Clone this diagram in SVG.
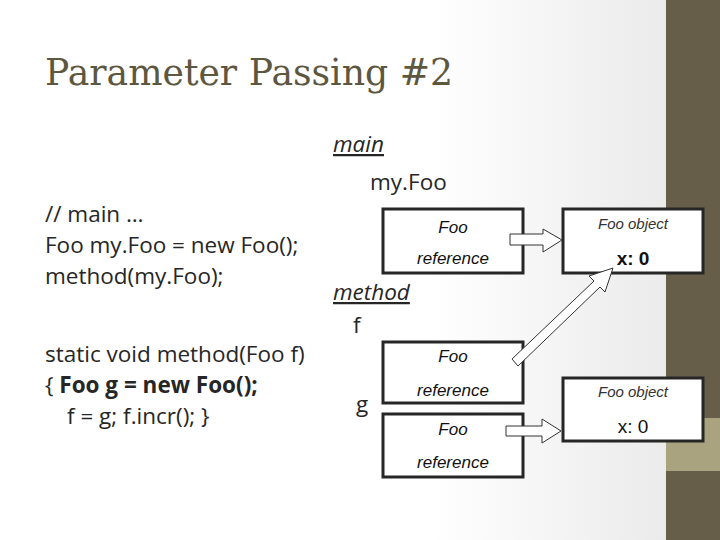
<svg xmlns="http://www.w3.org/2000/svg" width="720" height="540" viewBox="0 0 720 540">
<defs>
<linearGradient id="bg" x1="0" x2="1" y1="0" y2="0"><stop offset="0" stop-color="#ffffff"/><stop offset="0.6" stop-color="#ffffff"/><stop offset="1" stop-color="#e6e6e6"/></linearGradient>
</defs>
<style>
.t{font-family:"Open Sans","Liberation Sans",sans-serif;fill:#262626;font-size:22.5px}
.a{font-family:"Liberation Sans",Arial,sans-serif;fill:#111;font-size:17px;font-style:italic;text-anchor:middle}
.o{font-family:"Liberation Sans",Arial,sans-serif;fill:#111;font-size:19px;text-anchor:middle}
.box{fill:#fff;stroke:#262626;stroke-width:3}
.arr{fill:#fff;stroke:#333;stroke-width:1}
</style>
<rect width="720" height="540" fill="url(#bg)"/>
<rect x="666" y="0" width="54" height="540" fill="#665e48"/>
<rect x="666" y="418" width="54" height="53" fill="#a9a47f"/>
<text x="45" y="85" font-family="DejaVu Serif, Liberation Serif, serif" font-size="38" fill="#5e573f" textLength="408" lengthAdjust="spacingAndGlyphs">Parameter Passing #2</text>
<g id="code">
<text class="t" x="45" y="222">// main …</text>
<text class="t" x="45" y="253">Foo my.Foo = new Foo();</text>
<text class="t" x="45" y="284">method(my.Foo);</text>
<text class="t" x="45" y="362">static void method(Foo f)</text>
<text class="t" x="45" y="393">{ <tspan font-weight="bold">Foo g = new Foo();</tspan></text>
<text class="t" x="67" y="424">f = g; f.incr(); }</text>
<text class="t" x="333" y="152" font-style="italic" text-decoration="underline">main</text>
<text class="t" x="370" y="190">my.Foo</text>
<text class="t" x="333" y="300" font-style="italic" text-decoration="underline">method</text>
<text class="t" x="353" y="333">f</text>
<text class="t" x="356" y="412">g</text>
</g>
<g id="ref1"><rect class="box" x="383" y="209" width="140" height="64"/><text class="a" x="453" y="233">Foo</text><text class="a" x="453" y="264">reference</text></g>
<g id="obj1"><rect class="box" x="563" y="209" width="140" height="64"/><text class="a" x="633" y="229" style="font-size:15px;fill:#333">Foo object</text><text class="o" x="633" y="265" style="font-weight:bold">x: 0</text></g>
<g id="ref2"><rect class="box" x="383" y="342" width="140" height="61"/><text class="a" x="453" y="362">Foo</text><text class="a" x="453" y="396">reference</text></g>
<g id="ref3"><rect class="box" x="383" y="414" width="140" height="63"/><text class="a" x="453" y="435">Foo</text><text class="a" x="453" y="468">reference</text></g>
<g id="obj2"><rect class="box" x="563" y="378" width="140" height="63"/><text class="a" x="633" y="397" style="font-size:15px;fill:#333">Foo object</text><text class="o" x="633" y="433">x: 0</text></g>
<g id="connectors">
<polygon class="arr" points="510,234 543,234 543,229 562,240 543,252 543,245 510,245"/>
<polygon class="arr" points="506,426 542,426 542,419 561,431 542,443 542,436 506,436"/>
<polygon class="arr" points="512,359 594,281 589,276 613,268 605,292 600,287 518,366"/>
</g>
</svg>
